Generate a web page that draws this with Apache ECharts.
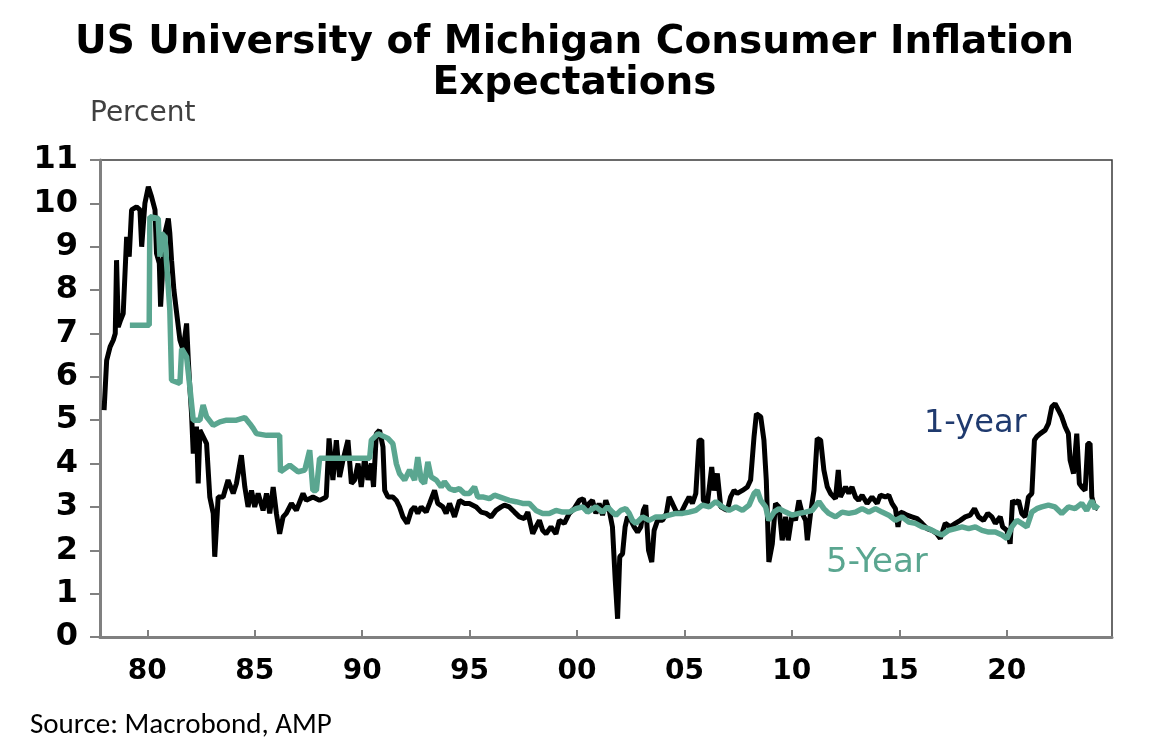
<!DOCTYPE html>
<html>
<head>
<meta charset="utf-8">
<title>US University of Michigan Consumer Inflation Expectations</title>
<script src="https://cdn.jsdelivr.net/npm/echarts@6/dist/echarts.min.js"></script>
<style>
  html, body { margin: 0; padding: 0; background: #fff; }
  #chart { width: 1149px; height: 754px; }
</style>
</head>
<body>
<div id="chart"></div>
<script>
// ===== data (decimal years, percent) =====
var oneYearDates = [
  1977.99, 1978.11, 1978.27, 1978.42, 1978.51, 1978.57, 1978.65, 1978.76, 1978.88, 1979.04,
  1979.16, 1979.27, 1979.50, 1979.66, 1979.74, 1979.89, 1980.05, 1980.20, 1980.36, 1980.43,
  1980.56, 1980.62, 1980.74, 1980.82, 1980.98, 1981.05, 1981.13, 1981.24, 1981.39, 1981.52,
  1981.67, 1981.83, 1981.91, 1981.98, 1982.06, 1982.14, 1982.29, 1982.37, 1982.45, 1982.60,
  1982.76, 1982.91, 1983.07, 1983.14, 1983.30, 1983.53, 1983.76, 1984.00, 1984.15, 1984.38,
  1984.54, 1984.69, 1984.85, 1985.00, 1985.16, 1985.39, 1985.55, 1985.70, 1985.86, 1986.01,
  1986.16, 1986.32, 1986.47, 1986.71, 1986.94, 1987.25, 1987.40, 1987.71, 1988.02, 1988.33,
  1988.46, 1988.64, 1988.80, 1988.95, 1989.11, 1989.34, 1989.50, 1989.65, 1989.81, 1989.96,
  1990.12, 1990.27, 1990.43, 1990.53, 1990.66, 1990.81, 1990.97, 1991.05, 1991.20, 1991.43,
  1991.59, 1991.74, 1991.90, 1992.10, 1992.29, 1992.44, 1992.59, 1992.75, 1992.98, 1993.14,
  1993.37, 1993.52, 1993.76, 1993.91, 1994.07, 1994.30, 1994.53, 1994.76, 1994.99, 1995.31,
  1995.54, 1995.77, 1996.00, 1996.23, 1996.47, 1996.62, 1996.85, 1997.09, 1997.32, 1997.55,
  1997.71, 1997.94, 1998.09, 1998.25, 1998.40, 1998.56, 1998.79, 1999.02, 1999.18, 1999.41,
  1999.64, 1999.87, 2000.11, 2000.29, 2000.42, 2000.57, 2000.72, 2000.88, 2001.03, 2001.19,
  2001.34, 2001.50, 2001.65, 2001.78, 2001.89, 2001.99, 2002.12, 2002.24, 2002.35, 2002.51,
  2002.66, 2002.82, 2002.97, 2003.09, 2003.20, 2003.33, 2003.48, 2003.59, 2003.75, 2003.98,
  2004.16, 2004.29, 2004.44, 2004.63, 2004.83, 2005.06, 2005.22, 2005.37, 2005.53, 2005.68,
  2005.81, 2005.88, 2006.07, 2006.27, 2006.38, 2006.53, 2006.69, 2006.84, 2007.00, 2007.15,
  2007.31, 2007.46, 2007.70, 2007.93, 2008.08, 2008.24, 2008.35, 2008.55, 2008.70, 2008.81,
  2008.93, 2009.09, 2009.24, 2009.40, 2009.55, 2009.71, 2009.83, 2010.02, 2010.17, 2010.33,
  2010.48, 2010.64, 2010.72, 2010.87, 2011.03, 2011.18, 2011.34, 2011.49, 2011.65, 2011.80,
  2012.03, 2012.16, 2012.26, 2012.50, 2012.65, 2012.80, 2012.96, 2013.11, 2013.27, 2013.50,
  2013.73, 2013.97, 2014.12, 2014.35, 2014.51, 2014.66, 2014.82, 2014.94, 2015.05, 2015.21,
  2015.36, 2015.59, 2015.83, 2016.06, 2016.29, 2016.52, 2016.75, 2016.91, 2017.14, 2017.37,
  2017.61, 2017.84, 2018.07, 2018.30, 2018.50, 2018.69, 2018.92, 2019.12, 2019.31, 2019.47,
  2019.70, 2019.81, 2020.01, 2020.16, 2020.27, 2020.39, 2020.55, 2020.70, 2020.86, 2021.01,
  2021.17, 2021.29, 2021.40, 2021.56, 2021.79, 2021.94, 2022.10, 2022.25, 2022.41, 2022.56,
  2022.72, 2022.87, 2022.95, 2023.11, 2023.26, 2023.38, 2023.49, 2023.65, 2023.77, 2023.88,
  2023.96, 2024.08, 2024.25
];
var oneYearValues = [
  5.23, 6.38, 6.69, 6.85, 7.0, 8.69, 7.15, 7.31, 7.46, 9.23,
  8.77, 9.85, 9.92, 9.85, 9.0, 10.0, 10.38, 10.15, 9.85, 8.85,
  8.62, 7.62, 8.69, 9.31, 9.65, 9.31, 8.69, 8.0, 7.38, 6.85,
  6.62, 7.23, 6.38, 5.77, 5.15, 4.23, 4.85, 3.54, 4.77, 4.62,
  4.46, 3.23, 2.85, 1.85, 3.23, 3.23, 3.62, 3.31, 3.54, 4.19,
  3.46, 3.0, 3.38, 3.0, 3.31, 2.92, 3.31, 2.85, 3.46, 2.85,
  2.38, 2.77, 2.85, 3.08, 2.92, 3.31, 3.15, 3.23, 3.15, 3.23,
  4.58, 3.62, 4.54, 3.69, 4.08, 4.54, 3.54, 3.62, 4.0, 3.46,
  4.15, 3.62, 4.0, 3.46, 4.69, 4.77, 4.38, 3.38, 3.23, 3.23,
  3.15, 3.0, 2.77, 2.62, 2.92, 3.0, 2.85, 3.0, 2.88, 3.08,
  3.38, 3.08, 3.0, 2.85, 3.08, 2.77, 3.15, 3.08, 3.08, 3.0,
  2.88, 2.85, 2.77, 2.92, 3.0, 3.04, 3.0, 2.88, 2.77, 2.73,
  2.88, 2.38, 2.54, 2.69, 2.46, 2.38, 2.54, 2.38, 2.69, 2.62,
  2.85, 2.96, 3.15, 3.19, 2.96, 3.08, 3.15, 2.85, 3.08, 2.81,
  3.15, 2.92, 2.54, 1.31, 0.42, 1.85, 1.92, 2.54, 2.77, 2.69,
  2.54, 2.42, 2.54, 2.92, 3.04, 2.0, 1.73, 2.46, 2.69, 2.69,
  2.85, 3.23, 3.08, 2.88, 2.85, 3.08, 3.23, 3.08, 3.31, 4.54,
  4.54, 3.15, 3.08, 3.92, 3.38, 3.77, 3.0, 2.96, 2.92, 3.23,
  3.38, 3.31, 3.38, 3.46, 3.62, 4.62, 5.15, 5.08, 4.54, 3.62,
  1.73, 2.15, 3.08, 3.0, 2.23, 2.77, 2.23, 2.85, 2.69, 3.15,
  2.85, 2.69, 2.23, 2.85, 3.38, 4.58, 4.54, 3.85, 3.46, 3.31,
  3.19, 3.85, 3.23, 3.46, 3.31, 3.46, 3.23, 3.15, 3.27, 3.08,
  3.23, 3.08, 3.27, 3.23, 3.27, 3.08, 2.96, 2.54, 2.88, 2.85,
  2.81, 2.77, 2.73, 2.62, 2.5, 2.46, 2.38, 2.27, 2.62, 2.54,
  2.62, 2.69, 2.77, 2.81, 2.96, 2.77, 2.69, 2.85, 2.77, 2.62,
  2.77, 2.54, 2.46, 2.15, 3.15, 3.08, 3.15, 2.85, 2.77, 3.23,
  3.31, 4.54, 4.62, 4.69, 4.77, 4.92, 5.31, 5.38, 5.23, 5.08,
  4.85, 4.69, 4.08, 3.77, 4.69, 3.54, 3.46, 3.38, 4.46, 4.46,
  3.23, 3.0, 2.96
];

var fiveYearDates = [
  1979.19, 1980.09, 1980.12, 1980.51, 1980.59, 1980.67, 1980.82, 1980.90, 1981.05, 1981.13,
  1981.52, 1981.60, 1981.83, 1981.98, 1982.14, 1982.45, 1982.60, 1982.76, 1983.07, 1983.38,
  1983.69, 1984.15, 1984.54, 1984.77, 1984.93, 1985.08, 1985.55, 1986.16, 1986.20, 1986.63,
  1987.02, 1987.33, 1987.56, 1987.71, 1987.87, 1988.02, 1988.49, 1990.35, 1990.43, 1990.74,
  1991.20, 1991.43, 1991.59, 1991.74, 1991.98, 1992.21, 1992.44, 1992.59, 1992.75, 1992.90,
  1993.06, 1993.21, 1993.45, 1993.68, 1993.83, 1994.07, 1994.30, 1994.53, 1994.76, 1994.99,
  1995.23, 1995.38, 1995.61, 1995.92, 1996.16, 1996.39, 1996.62, 1996.85, 1997.16, 1997.47,
  1997.78, 1998.09, 1998.40, 1998.71, 1999.02, 1999.33, 1999.64, 1999.95, 2000.26, 2000.49,
  2000.57, 2000.88, 2001.19, 2001.42, 2001.65, 2001.81, 2002.04, 2002.27, 2002.43, 2002.58,
  2002.74, 2003.05, 2003.36, 2003.67, 2003.98, 2004.29, 2004.60, 2004.91, 2005.22, 2005.53,
  2005.84, 2006.15, 2006.46, 2006.77, 2007.08, 2007.39, 2007.70, 2008.01, 2008.24, 2008.39,
  2008.55, 2008.78, 2008.93, 2009.17, 2009.40, 2009.71, 2010.02, 2010.33, 2010.64, 2010.95,
  2011.26, 2011.49, 2011.72, 2012.03, 2012.34, 2012.65, 2012.96, 2013.27, 2013.58, 2013.89,
  2014.20, 2014.51, 2014.82, 2015.13, 2015.44, 2015.75, 2016.06, 2016.37, 2016.68, 2016.99,
  2017.30, 2017.61, 2017.92, 2018.23, 2018.54, 2018.85, 2019.16, 2019.47, 2019.78, 2020.01,
  2020.24, 2020.47, 2020.70, 2020.94, 2021.17, 2021.40, 2021.63, 2021.94, 2022.25, 2022.56,
  2022.87, 2023.18, 2023.49, 2023.72, 2023.96, 2024.11, 2024.25
];
var fiveYearValues = [
  7.19, 7.19, 9.69, 9.65, 8.77, 9.31, 9.23, 8.62, 7.54, 5.92,
  5.85, 6.65, 6.46, 5.77, 5.0, 5.0, 5.35, 5.08, 4.88, 4.96,
  5.0, 5.0, 5.06, 4.92, 4.81, 4.69, 4.65, 4.65, 3.81, 3.96,
  3.81, 3.85, 4.31, 3.38, 3.38, 4.12, 4.12, 4.12, 4.54, 4.69,
  4.58, 4.46, 4.0, 3.77, 3.62, 3.85, 3.62, 4.15, 3.62, 3.54,
  4.04, 3.69, 3.62, 3.46, 3.58, 3.42, 3.38, 3.42, 3.31, 3.31,
  3.46, 3.23, 3.23, 3.19, 3.27, 3.23, 3.19, 3.15, 3.12, 3.08,
  3.08, 2.92, 2.85, 2.85, 2.92, 2.88, 2.88, 2.96, 3.0, 2.88,
  2.88, 3.0, 2.88, 3.0, 2.88, 2.81, 2.92, 2.96, 2.85, 2.69,
  2.62, 2.77, 2.69, 2.77, 2.77, 2.81, 2.85, 2.85, 2.88, 2.92,
  3.04, 3.0, 3.12, 3.0, 2.92, 3.0, 2.92, 3.04, 3.31, 3.38,
  3.15, 3.0, 2.69, 2.88, 2.96, 2.88, 2.81, 2.85, 2.88, 2.92,
  3.12, 2.96, 2.85, 2.77, 2.88, 2.85, 2.88, 2.96, 2.88, 2.96,
  2.88, 2.81, 2.69, 2.77, 2.65, 2.62, 2.54, 2.5, 2.42, 2.35,
  2.46, 2.5, 2.54, 2.5, 2.54, 2.46, 2.42, 2.42, 2.35, 2.27,
  2.54, 2.69, 2.62, 2.54, 2.88, 2.96, 3.0, 3.04, 3.0, 2.85,
  3.0, 2.96, 3.08, 2.92, 3.15, 2.96, 3.05
];

var yearTicks = [1980, 1985, 1990, 1995, 2000, 2005, 2010, 2015, 2020];

// ===== chart =====
(function () {
  var myChart = echarts.init(document.getElementById('chart'));

  function pairs(xs, ys) {
    return xs.map(function (x, i) { return [x, ys[i]]; });
  }

  var option = {
    backgroundColor: '#fff',
    animation: false,
    title: {
      text: 'US University of Michigan Consumer Inflation\nExpectations',
      left: 'center',
      top: 17,
      textStyle: {
        fontFamily: '"DejaVu Sans", sans-serif',
        fontWeight: 'bold',
        fontSize: 39,
        lineHeight: 41,
        color: '#000'
      }
    },
    grid: {
      left: 100,
      right: 37,
      top: 160,
      bottom: 117,
      show: true,
      borderColor: '#3a3a3a',
      borderWidth: 1.5
    },
    xAxis: {
      type: 'value',
      min: 1977.8,
      max: 2024.9,
      splitLine: { show: false },
      axisLine: {
        lineStyle: { color: '#808080', width: 3 }
      },
      axisTick: {
        inside: true,
        length: 7,
        customValues: yearTicks,
        lineStyle: { color: '#808080', width: 2 }
      },
      axisLabel: {
        customValues: yearTicks,
        margin: 21,
        color: '#000',
        fontFamily: '"DejaVu Sans", sans-serif',
        fontWeight: 'bold',
        fontSize: 28,
        formatter: function (v) {
          return String(Math.round(v)).slice(2);
        }
      }
    },
    yAxis: {
      type: 'value',
      min: 0,
      max: 11,
      interval: 1,
      splitLine: { show: false },
      axisLine: {
        show: true,
        lineStyle: { color: '#808080', width: 3 }
      },
      axisTick: {
        show: true,
        length: 10,
        lineStyle: { color: '#808080', width: 2 }
      },
      axisLabel: {
        margin: 22,
        color: '#000',
        fontFamily: '"DejaVu Sans", sans-serif',
        fontWeight: 'bold',
        fontSize: 32
      }
    },
    series: [
      {
        name: '1-year',
        type: 'line',
        showSymbol: false,
        z: 3,
        lineStyle: { color: '#000', width: 5 },
        data: pairs(oneYearDates, oneYearValues)
      },
      {
        name: '5-Year',
        type: 'line',
        showSymbol: false,
        z: 4,
        lineStyle: { color: '#5aa690', width: 5.5 },
        data: pairs(fiveYearDates, fiveYearValues)
      }
    ],
    graphic: [
      {
        type: 'text',
        left: 90,
        top: 100,
        style: {
          text: 'Percent',
          fill: '#404040',
          font: '28px "DejaVu Sans", sans-serif'
        }
      },
      {
        type: 'text',
        left: 924,
        top: 408,
        style: {
          text: '1-year',
          fill: '#1f3a6e',
          font: '32px "DejaVu Sans", sans-serif'
        }
      },
      {
        type: 'text',
        left: 826,
        top: 546,
        style: {
          text: '5-Year',
          fill: '#5aa690',
          font: '34px "DejaVu Sans", sans-serif'
        }
      },
      {
        type: 'text',
        left: 30,
        top: 711,
        style: {
          text: 'Source: Macrobond, AMP',
          fill: '#000',
          font: '29px Carlito, Lato, "Open Sans", sans-serif'
        }
      }
    ]
  };

  myChart.setOption(option);
  window.addEventListener('resize', function () {
    myChart.resize();
  });
})();
</script>
</body>
</html>
